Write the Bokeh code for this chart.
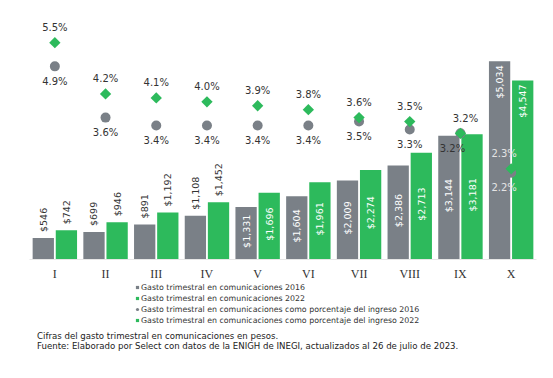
import math
from bokeh.plotting import figure
from bokeh.models import ColumnDataSource, Range1d, FactorRange, Legend, LegendItem, Label
from bokeh.layouts import column
from bokeh.transform import dodge
from bokeh.core.properties import value
from bokeh.embed import file_html
from bokeh.resources import INLINE

# ---- data ----
cats = ["I", "II", "III", "IV", "V", "VI", "VII", "VIII", "IX", "X"]
gasto_2016 = [546, 699, 891, 1108, 1331, 1604, 2009, 2386, 3144, 5034]
gasto_2022 = [742, 946, 1192, 1452, 1696, 1961, 2274, 2713, 3181, 4547]
pct_2016 = [4.9, 3.6, 3.4, 3.4, 3.4, 3.4, 3.5, 3.3, 3.2, 2.2]
pct_2022 = [5.5, 4.2, 4.1, 4.0, 3.9, 3.8, 3.6, 3.5, 3.2, 2.3]
series_names = [
    "Gasto trimestral en comunicaciones 2016",
    "Gasto trimestral en comunicaciones 2022",
    "Gasto trimestral en comunicaciones como porcentaje del ingreso 2016",
    "Gasto trimestral en comunicaciones como porcentaje del ingreso 2022",
]
notes = [
    "Cifras del gasto trimestral en comunicaciones en pesos.",
    "Fuente: Elaborado por Select con datos de la ENIGH de INEGI, actualizados al 26 de julio de 2023.",
]

GRAY = "#7a8087"
GREEN = "#2dba5c"
TXT = "#333333"
FONT = "DejaVu Sans"

# ---- main chart ----
p = figure(width=545, height=283, x_range=FactorRange(*cats), y_range=Range1d(0, 6070),
           output_backend="svg", toolbar_location=None,
           min_border_left=29, min_border_right=9, min_border_top=20, min_border_bottom=22)
p.extra_y_ranges = {"pct": Range1d(0, 6.063)}
p.outline_line_color = None
p.grid.visible = False
p.yaxis.visible = False
p.xaxis.axis_line_color = "#e6e6e6"
p.xaxis.major_tick_line_color = None
p.xaxis.major_tick_out = 0
p.xaxis.major_tick_in = 0
p.xaxis.major_label_standoff = 7
p.xaxis.major_label_text_font = "Liberation Serif"
p.xaxis.major_label_text_font_size = "12px"
p.xaxis.major_label_text_color = TXT

OFF = 0.228
W = 0.42
src = ColumnDataSource(dict(cat=cats, g16=gasto_2016, g22=gasto_2022, p16=pct_2016, p22=pct_2022))
p.vbar(x=dodge("cat", -OFF, range=p.x_range), top="g16", width=W, source=src,
       fill_color=GRAY, line_color=None)
p.vbar(x=dodge("cat", OFF, range=p.x_range), top="g22", width=W, source=src,
       fill_color=GREEN, line_color=None)

# bar value labels
def bar_labels(vals, off):
    groups = [
        (range(0, 4), lambda v: v, "left", -6, TXT),
        (range(4, 9), lambda v: v / 2, "center", -2, "white"),
        (range(9, 10), lambda v: v, "right", 4, "white"),
    ]
    for idxs, ypos, align, yoff, col in groups:
        s = ColumnDataSource(dict(cat=[cats[i] for i in idxs],
                                  y=[ypos(vals[i]) for i in idxs],
                                  t=["${:,}".format(vals[i]) for i in idxs]))
        p.text(x=dodge("cat", off, range=p.x_range), y="y", text="t", source=s,
               angle=math.pi / 2, text_align=align, text_baseline="middle", y_offset=yoff,
               text_font=value(FONT), text_font_size="9.5px", text_color=col)

bar_labels(gasto_2016, -OFF)
bar_labels(gasto_2022, OFF)

# percentage markers
p.scatter(x="cat", y="p16", source=src, y_range_name="pct", marker="circle", size=10,
          fill_color=GRAY, line_color=None)
p.scatter(x="cat", y="p22", source=src, y_range_name="pct", marker="square", angle=math.pi / 4,
          size=8, fill_color=GREEN, line_color=None)

# percentage labels
xshift_above = {8: 5, 9: -7}
xshift_below = {8: -8, 9: -7}
light = {9}
for vals, yoff, xs in [(pct_2022, -15, xshift_above), (pct_2016, 15, xshift_below)]:
    s = ColumnDataSource(dict(cat=cats, y=vals, t=["{:.1f}%".format(v) for v in vals],
                              xo=[xs.get(i, 0) for i in range(len(cats))],
                              c=["#e4e4e4" if i in light else TXT for i in range(len(cats))]))
    p.text(x="cat", y="y", text="t", source=s, y_range_name="pct", x_offset="xo", y_offset=yoff,
           text_align="center", text_baseline="middle", text_font=value(FONT),
           text_font_size="10px", text_color="c")

# ---- legend + notes panel (frame aligned with main frame: left 29, width 507) ----
p2 = figure(width=545, height=95, x_range=Range1d(0, 507), y_range=Range1d(0, 95),
            output_backend="svg", toolbar_location=None, x_axis_type=None, y_axis_type=None,
            min_border_left=29, min_border_right=9, min_border_top=0, min_border_bottom=0)
p2.outline_line_color = None
p2.grid.visible = False

# legend proxies, placed outside the visible range
proxies = [
    p2.scatter(x=[-100], y=[-100], marker="square", fill_color=GRAY, line_color=None),
    p2.scatter(x=[-100], y=[-100], marker="square", fill_color=GREEN, line_color=None),
    p2.scatter(x=[-100], y=[-100], marker="circle", fill_color=GRAY, line_color=None),
    p2.scatter(x=[-100], y=[-100], marker="square", angle=math.pi / 4, fill_color=GREEN,
               line_color=None),
]
legend = Legend(items=[LegendItem(label=n, renderers=[r]) for n, r in zip(series_names, proxies)],
                location=(104, 53), orientation="vertical", glyph_width=8, glyph_height=10,
                label_height=10, label_standoff=0, spacing=1, padding=0, margin=0,
                border_line_color=None, background_fill_alpha=0,
                label_text_font=FONT, label_text_font_size="7.85px", label_text_color=TXT)
p2.add_layout(legend, "center")

for n, y in zip(notes, [42.5, 32.5]):
    p2.add_layout(Label(x=7.5, y=y, text=n, text_font=FONT, text_font_size="8.6px",
                        text_color="#222222", text_baseline="middle", text_align="left"))

open("out.html", "w").write(file_html(column(p, p2), INLINE))
